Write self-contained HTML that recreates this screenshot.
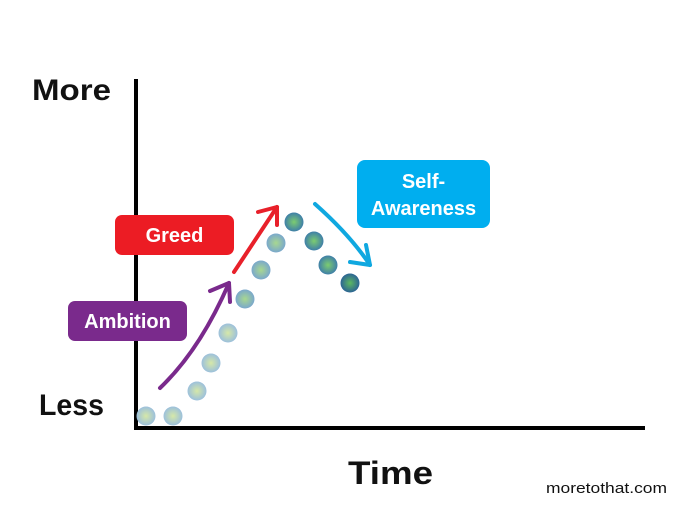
<!DOCTYPE html>
<html><head><style>
body{margin:0;background:#fff;width:700px;height:513px;overflow:hidden;font-family:"Liberation Sans",sans-serif}
</style></head><body>
<svg width="700" height="513" xmlns="http://www.w3.org/2000/svg">
<defs>
<radialGradient id="g1" cx="50%" cy="50%" r="50%"><stop offset="0" stop-color="#d6e8a8"/><stop offset="1" stop-color="#9cc0dc"/></radialGradient>
<radialGradient id="g2" cx="50%" cy="50%" r="50%"><stop offset="0" stop-color="#a8d890"/><stop offset="1" stop-color="#7aa8cc"/></radialGradient>
<radialGradient id="g3" cx="50%" cy="50%" r="50%"><stop offset="0" stop-color="#7ccc70"/><stop offset="1" stop-color="#3f7fa8"/></radialGradient>
<radialGradient id="g4" cx="50%" cy="50%" r="50%"><stop offset="0" stop-color="#5cb860"/><stop offset="1" stop-color="#2c6494"/></radialGradient>
</defs>
<line x1="136" y1="79" x2="136" y2="430" stroke="#000" stroke-width="4"/>
<line x1="134" y1="428" x2="645" y2="428" stroke="#000" stroke-width="4"/>
<text x="32" y="100" font-size="30" font-weight="bold" fill="#111" textLength="79" lengthAdjust="spacingAndGlyphs">More</text>
<text x="39" y="415" font-size="30" font-weight="bold" fill="#111" textLength="65" lengthAdjust="spacingAndGlyphs">Less</text>
<text x="348" y="484" font-size="32" font-weight="bold" fill="#111" textLength="85" lengthAdjust="spacingAndGlyphs">Time</text>
<text x="546" y="493" font-size="15" fill="#111" textLength="121" lengthAdjust="spacingAndGlyphs">moretothat.com</text>
<circle cx="146" cy="416" r="9.5" fill="url(#g1)"/>
<circle cx="173" cy="416" r="9.5" fill="url(#g1)"/>
<circle cx="197" cy="391" r="9.5" fill="url(#g1)"/>
<circle cx="211" cy="363" r="9.5" fill="url(#g1)"/>
<circle cx="228" cy="333" r="9.5" fill="url(#g1)"/>
<circle cx="245" cy="299" r="9.5" fill="url(#g2)"/>
<circle cx="261" cy="270" r="9.5" fill="url(#g2)"/>
<circle cx="276" cy="243" r="9.5" fill="url(#g2)"/>
<circle cx="294" cy="222" r="9.5" fill="url(#g3)"/>
<circle cx="314" cy="241" r="9.5" fill="url(#g3)"/>
<circle cx="328" cy="265" r="9.5" fill="url(#g3)"/>
<circle cx="350" cy="283" r="9.5" fill="url(#g4)"/>
<g fill="none" stroke-width="4" stroke-linecap="round" stroke-linejoin="round">
<path d="M160,388 Q200,350 229,283" stroke="#7a2a8c"/>
<path d="M210,291 L229,283 L230,302" stroke="#7a2a8c"/>
<path d="M234,272 L277,207" stroke="#e8202a"/>
<path d="M258,212 L277,207 L277,225" stroke="#e8202a"/>
<path d="M315,204 Q350,235 370,265" stroke="#10a8e0"/>
<path d="M366,245 L370,265 L350,262" stroke="#10a8e0"/>
</g>
<rect x="115" y="215" width="119" height="40" rx="7" fill="#ec1c24"/>
<text x="174.5" y="242" font-size="20" font-weight="bold" fill="#fff" text-anchor="middle">Greed</text>
<rect x="68" y="301" width="119" height="40" rx="7" fill="#7a2a8c"/>
<text x="127.5" y="328" font-size="20" font-weight="bold" fill="#fff" text-anchor="middle">Ambition</text>
<rect x="357" y="160" width="133" height="68" rx="8" fill="#00aeef"/>
<text x="423.5" y="188" font-size="20" font-weight="bold" fill="#fff" text-anchor="middle">Self-</text>
<text x="423.5" y="215" font-size="20" font-weight="bold" fill="#fff" text-anchor="middle">Awareness</text>
</svg>
</body></html>
